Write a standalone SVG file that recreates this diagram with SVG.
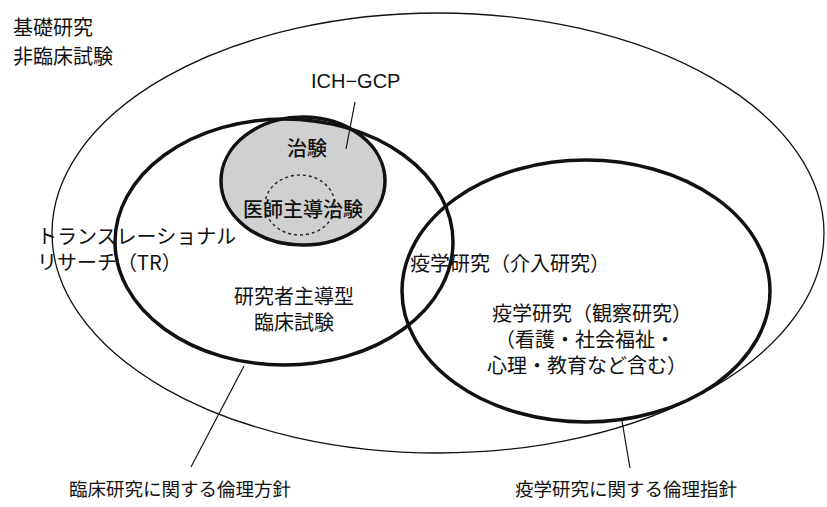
<svg xmlns="http://www.w3.org/2000/svg" width="827" height="507" viewBox="0 0 827 507">
<style>
.t{font-family:"Noto Sans CJK JP","Noto Sans",sans-serif;font-size:20px;fill:#111}
.b{font-weight:500}
.lat{font-family:"Liberation Sans",Arial,sans-serif;font-size:20px;fill:#111}
.thin{fill:none;stroke:#111;stroke-width:1.3}
.thick{fill:none;stroke:#111;stroke-width:3.5}
.lead{stroke:#111;stroke-width:1.2;fill:none}
.lbl{font-size:18.5px}
</style>
<rect width="827" height="507" fill="#fff"/>
<g id="basic">
<ellipse class="thin" cx="438" cy="233" rx="386" ry="220"/>
<text class="t" x="13" y="35">基礎研究</text>
<text class="t" x="13" y="64">非臨床試験</text>
<text class="t" x="37" y="244">トランスレーショナル</text>
<text class="t" x="37" y="270">リサーチ（TR）</text>
</g>
<g id="chiken">
<ellipse cx="303" cy="181" rx="82" ry="64" fill="#d0d0d0" stroke="#111" stroke-width="3.5"/>
<text class="t b" x="287" y="156">治験</text>
</g>
<g id="ishi">
<ellipse cx="300" cy="205" rx="35" ry="30" fill="none" stroke="#222" stroke-width="1.4" stroke-dasharray="3,3"/>
<text class="t b" x="243" y="217">医師主導治験</text>
</g>
<g id="clinical">
<ellipse class="thick" cx="284" cy="242" rx="169" ry="123"/>
<text class="t" x="294" y="304" text-anchor="middle">研究者主導型</text>
<text class="t" x="294" y="330" text-anchor="middle">臨床試験</text>
</g>
<g id="epi">
<ellipse class="thick" cx="586" cy="291" rx="184" ry="131"/>
<text class="t" x="410" y="271">疫学研究（介入研究）</text>
<text class="t" x="592" y="321" text-anchor="middle">疫学研究（観察研究）</text>
<text class="t" x="585" y="347" text-anchor="middle">（看護・社会福祉・</text>
<text class="t" x="587" y="373" text-anchor="middle">心理・教育など含む）</text>
</g>
<g id="gcp"><text class="lat" x="311" y="88">ICH−GCP</text></g>
<g id="rinsho-label"><text class="t lbl" x="180" y="496" text-anchor="middle">臨床研究に関する倫理方針</text></g>
<g id="ekigaku-label"><text class="t lbl" x="626" y="496" text-anchor="middle">疫学研究に関する倫理指針</text></g>
<g id="connectors">
<line class="lead" x1="355" y1="102" x2="346" y2="149"/>
<line class="lead" x1="244" y1="366" x2="191" y2="467"/>
<line class="lead" x1="622" y1="421" x2="630" y2="468"/>
</g>
</svg>
